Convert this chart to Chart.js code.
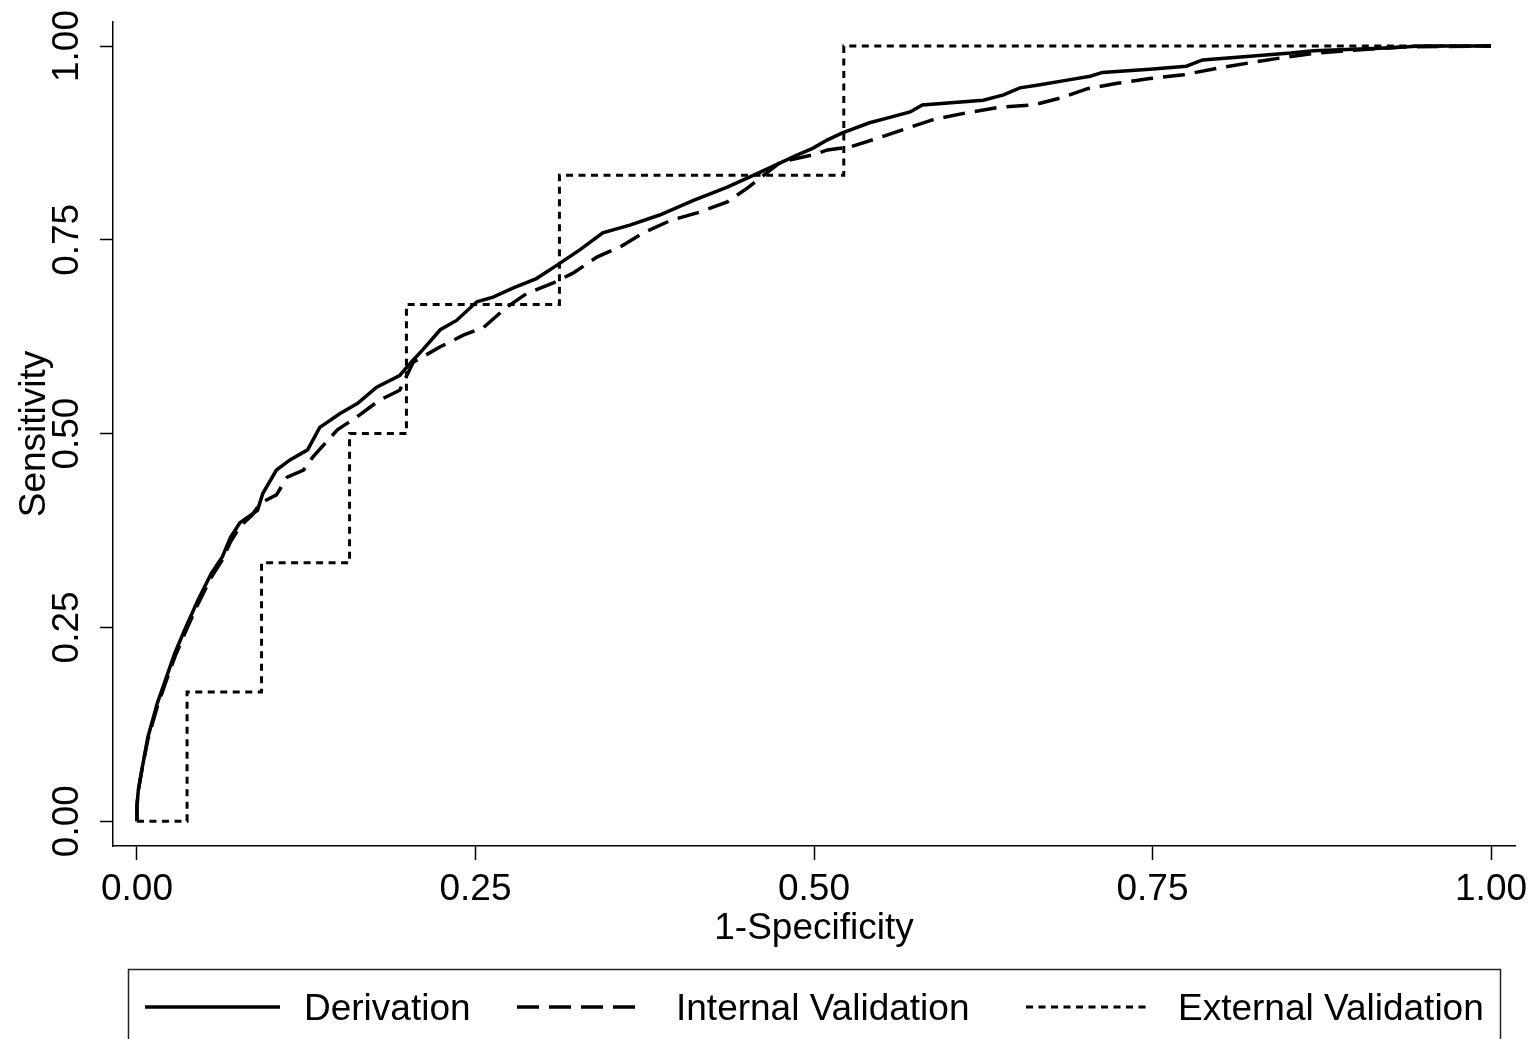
<!DOCTYPE html>
<html>
<head>
<meta charset="utf-8">
<title>ROC curves</title>
<script src="https://cdn.jsdelivr.net/npm/chart.js@4.4.1/dist/chart.umd.min.js"></script>
<style>
  html, body { margin: 0; padding: 0; background: #fff; }
  #wrap { width: 1537px; height: 1039px; }
</style>
</head>
<body>
<div id="wrap"><canvas id="roc" width="1537" height="1039"></canvas></div>
<script>
  const seriesNames = ['Derivation', 'Internal Validation', 'External Validation'];

  const xTicks = [0, 0.25, 0.5, 0.75, 1];
  const yTicks = [0, 0.25, 0.5, 0.75, 1];

  // derivation cohort (1-specificity, sensitivity)
  const derivFpr = [0, 0, 0.001, 0.004, 0.008, 0.015, 0.021, 0.028, 0.036, 0.045, 0.055, 0.063, 0.069, 0.076, 0.089, 0.093,
    0.103, 0.113, 0.126, 0.135, 0.150, 0.163, 0.177, 0.194, 0.204, 0.211, 0.224, 0.236, 0.251, 0.263, 0.278, 0.295,
    0.310, 0.327, 0.344, 0.364, 0.386, 0.411, 0.436, 0.460, 0.487, 0.499, 0.510, 0.521, 0.541, 0.556, 0.571, 0.580,
    0.625, 0.640, 0.652, 0.667, 0.687, 0.704, 0.713, 0.748, 0.775, 0.787, 0.815, 0.852, 0.869, 0.918, 0.948, 1.0];
  const derivTpr = [0, 0.02, 0.04, 0.07, 0.108, 0.152, 0.182, 0.217, 0.250, 0.285, 0.320, 0.341, 0.366, 0.385, 0.401, 0.423,
    0.453, 0.466, 0.479, 0.508, 0.526, 0.539, 0.560, 0.575, 0.595, 0.608, 0.634, 0.646, 0.670, 0.676, 0.688, 0.700,
    0.717, 0.737, 0.759, 0.769, 0.782, 0.801, 0.818, 0.837, 0.859, 0.868, 0.879, 0.888, 0.901, 0.908, 0.915, 0.924,
    0.930, 0.937, 0.946, 0.950, 0.956, 0.961, 0.966, 0.970, 0.974, 0.982, 0.986, 0.991, 0.994, 0.997, 1.0, 1.0];

  // internal validation
  const internFpr = [0, 0, 0.001, 0.004, 0.008, 0.015, 0.021, 0.028, 0.036, 0.045, 0.055, 0.063, 0.069, 0.076, 0.085, 0.091,
    0.103, 0.111, 0.123, 0.130, 0.148, 0.162, 0.179, 0.194, 0.204, 0.224, 0.241, 0.256, 0.273, 0.288, 0.307, 0.322,
    0.340, 0.357, 0.374, 0.394, 0.416, 0.436, 0.451, 0.475, 0.500, 0.510, 0.527, 0.547, 0.569, 0.588, 0.613, 0.637,
    0.662, 0.682, 0.702, 0.724, 0.748, 0.773, 0.800, 0.824, 0.846, 0.871, 0.901, 0.938, 1.0];
  const internTpr = [0, 0.02, 0.04, 0.07, 0.105, 0.148, 0.178, 0.212, 0.245, 0.280, 0.315, 0.337, 0.360, 0.380, 0.395, 0.410,
    0.421, 0.444, 0.453, 0.470, 0.505, 0.521, 0.543, 0.556, 0.592, 0.612, 0.627, 0.637, 0.663, 0.681, 0.694, 0.707,
    0.728, 0.741, 0.759, 0.775, 0.786, 0.799, 0.817, 0.850, 0.860, 0.866, 0.870, 0.881, 0.894, 0.905, 0.914, 0.921,
    0.924, 0.933, 0.945, 0.952, 0.958, 0.963, 0.972, 0.979, 0.985, 0.991, 0.995, 0.999, 1.0];

  // external validation (few cases, so a coarse staircase)
  const externFpr = [0, 0.037, 0.092, 0.157, 0.199, 0.312, 0.522, 1.0];
  const externTpr = [0, 0.1667, 0.3333, 0.5, 0.6667, 0.8333, 1.0, 1.0];

  const FONT = "'Liberation Sans', Arial, sans-serif";

  function toPoints(xs, ys) {
    return xs.map((x, i) => ({ x: x, y: ys[i] }));
  }

  const legendSlots = [[145, 280, 304], [517, 640, 676], [1026, 1150, 1178]];

  const legendBox = {
    id: 'legendBox',
    afterDraw(chart) {
      const ctx = chart.ctx;
      ctx.save();
      ctx.strokeStyle = '#222';
      ctx.lineWidth = 1.5;
      ctx.setLineDash([]);
      ctx.strokeRect(128.5, 969.5, 1372, 90);
      chart.data.datasets.forEach((ds, i) => {
        const [x0, x1, tx] = legendSlots[i];
        ctx.beginPath();
        ctx.strokeStyle = ds.borderColor;
        ctx.lineWidth = ds.borderWidth;
        ctx.setLineDash(ds.borderDash || []);
        ctx.moveTo(x0, 1007);
        ctx.lineTo(x1, 1007);
        ctx.stroke();
        ctx.setLineDash([]);
        ctx.fillStyle = '#000';
        ctx.font = '37px ' + FONT;
        ctx.textBaseline = 'alphabetic';
        ctx.textAlign = 'left';
        ctx.fillText(ds.label, tx, 1020);
      });
      ctx.restore();
    }
  };

  const data = {
    datasets: [{
      label: seriesNames[0],
      data: toPoints(derivFpr, derivTpr),
      borderColor: '#000',
      borderWidth: 3.5,
      borderDash: [],
    }, {
      label: seriesNames[1],
      data: toPoints(internFpr, internTpr),
      borderColor: '#000',
      borderWidth: 3.5,
      borderDash: [22, 10],
    }, {
      label: seriesNames[2],
      data: toPoints(externFpr, externTpr),
      borderColor: '#000',
      borderWidth: 3,
      borderDash: [7, 5.5],
      stepped: 'before',
    }]
  };

  const config = {
    type: 'scatter',
    data: data,
    options: {
      responsive: false,
      animation: false,
      devicePixelRatio: 1,
      showLine: true,
      elements: {
        point: { radius: 0, hoverRadius: 0 },
        line: { tension: 0, fill: false }
      },
      layout: { padding: { top: 22, right: 22, bottom: 84, left: 0 } },
      plugins: {
        legend: { display: false },
        tooltip: { enabled: false }
      },
      scales: {
        x: {
          type: 'linear',
          min: -0.0177,
          max: 1.0177,
          afterBuildTicks: s => { s.ticks = xTicks.map(v => ({ value: v })); },
          afterFit: s => { s.height = 109; s.paddingLeft = 0; s.paddingRight = 0; },
          border: { display: true, color: '#000', width: 1.5 },
          grid: { display: true, drawOnChartArea: false, drawTicks: true, tickLength: 14, tickWidth: 1.5, tickColor: '#000' },
          ticks: {
            padding: 8, minRotation: 0, maxRotation: 0, color: '#000',
            font: { family: FONT, size: 37 },
            callback: v => v.toFixed(2)
          },
          title: {
            display: true, text: '1-Specificity', color: '#000',
            font: { family: FONT, size: 37 },
            padding: { top: 0, bottom: 4 }
          }
        },
        y: {
          type: 'linear',
          min: -0.032,
          max: 1.031,
          afterBuildTicks: s => { s.ticks = yTicks.map(v => ({ value: v })); },
          afterFit: s => { s.width = 113; s.paddingTop = 0; s.paddingBottom = 0; },
          border: { display: true, color: '#000', width: 1.5 },
          grid: { display: true, drawOnChartArea: false, drawTicks: true, tickLength: 13, tickWidth: 1.5, tickColor: '#000' },
          ticks: {
            minRotation: 90, maxRotation: 90, crossAlign: 'center', padding: -4, color: '#000',
            font: { family: FONT, size: 37 },
            callback: v => v.toFixed(2)
          },
          title: {
            display: true, text: 'Sensitivity', color: '#000',
            font: { family: FONT, size: 37 },
            padding: { top: 13, bottom: 0 }
          }
        }
      }
    },
    plugins: [legendBox]
  };

  const rocChart = new Chart(
    document.getElementById('roc'),
    config
  );
</script>
</body>
</html>
